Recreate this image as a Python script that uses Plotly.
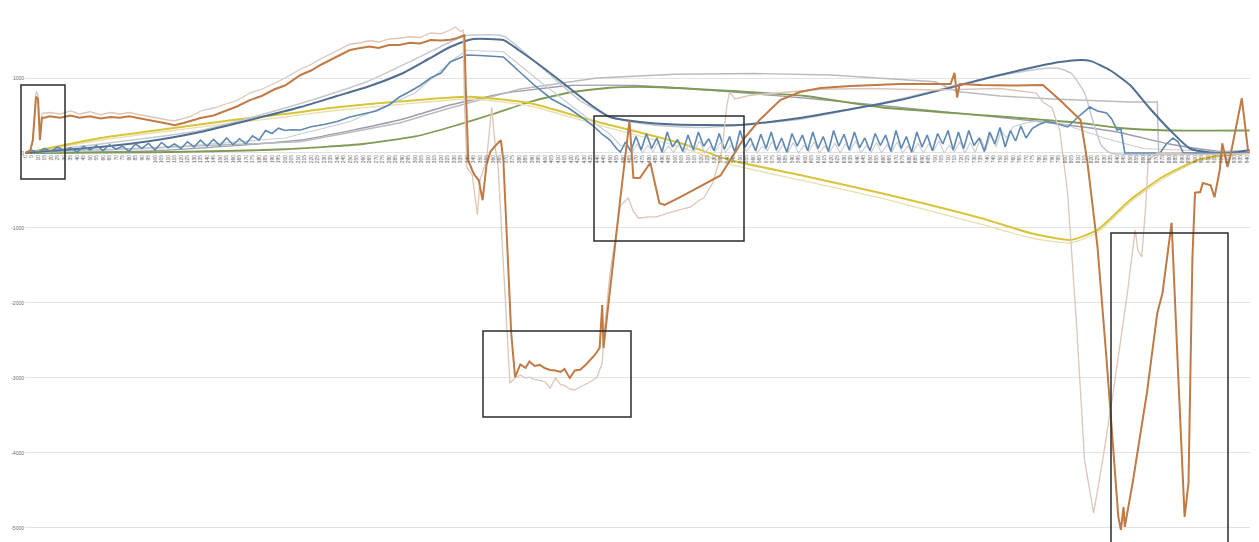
import plotly.graph_objects as go

# sample index (x) and value (y) pairs for each recorded channel
orange_x = [0, 4, 6, 8.5, 10, 11.5, 13, 15, 19, 27, 35, 42, 50, 58, 66, 73, 80, 88, 96, 104, 110, 115, 122, 128, 135, 145, 154, 163, 173, 182, 192, 200, 212, 220, 228, 235, 242, 250, 258, 265, 272, 280, 288, 296, 304, 312, 320, 327, 332, 336, 338, 339, 341, 344, 346, 349, 352, 355, 358, 362, 366, 368, 371, 374, 377, 381, 385, 388, 392, 396, 400, 404, 408, 412, 415, 419, 423, 427, 431, 435, 438, 442, 444, 445, 450, 458, 465, 468, 473, 481, 488, 492, 504, 519, 535, 552, 565, 581, 596, 612, 635, 673, 712, 715, 717, 719, 735, 760, 783, 796, 812, 817, 825, 832, 837, 841, 843, 845, 846, 852, 863, 871, 875, 882, 887, 892, 895, 898, 900, 904, 906, 912, 915, 919, 921, 925, 927, 936, 941]
orange_y = [0, 30, 170, 750, 720, 170, 470, 470, 490, 470, 500, 470, 490, 460, 480, 470, 490, 460, 440, 410, 390, 370, 400, 430, 467, 500, 560, 620, 706, 760, 850, 900, 1040, 1100, 1180, 1240, 1300, 1373, 1400, 1420, 1400, 1440, 1440, 1470, 1460, 1506, 1500, 1510, 1530, 1560, 1570, 900, -100, -230, -300, -360, -630, -160, 20, 100, 170, -100, -1300, -2400, -2990, -2820, -2866, -2780, -2840, -2826, -2870, -2893, -2900, -2920, -2880, -3000, -2900, -2890, -2830, -2760, -2700, -2600, -2026, -2600, -1800, -600, 430, -330, -333, -130, -670, -693, -587, -450, -300, 170, 440, 706, 813, 866, 893, 920, 920, 1070, 740, 920, 906, 900, 906, 706, 440, -93, -1253, -2760, -3866, -4853, -5026, -4720, -4986, -4400, -3200, -2133, -1866, -930, -2930, -4853, -4400, -1400, -530, -520, -400, -430, -590, -230, 130, -187, -53, 730, 0]

pale_x = [0, 4, 6, 8.5, 10, 11.5, 13, 15, 19, 27, 35, 42, 50, 58, 66, 73, 80, 88, 96, 104, 110, 115, 122, 128, 135, 145, 154, 163, 173, 182, 192, 200, 212, 220, 228, 235, 242, 250, 258, 265, 272, 280, 288, 296, 304, 312, 320, 327, 331, 335, 337, 338, 340, 344, 348, 350, 355, 359, 362, 364, 368, 373, 377, 381, 385, 388, 392, 396, 400, 404, 408, 412, 415, 419, 423, 427, 431, 435, 440, 444, 446, 450, 458, 464, 468, 472, 480, 486, 495, 504, 512, 519, 522, 529, 535, 537, 540, 542, 546, 558, 581, 612, 650, 700, 750, 778, 783, 790, 796, 802, 809, 815, 822, 829, 837, 848, 854, 856, 859, 862, 864, 871, 900, 942]
pale_y = [0, 30, 150, 820, 780, 240, 530, 530, 540, 520, 560, 520, 550, 510, 540, 520, 540, 510, 490, 460, 440, 430, 460, 490, 560, 600, 650, 700, 800, 850, 930, 1000, 1120, 1180, 1260, 1320, 1380, 1450, 1470, 1500, 1480, 1520, 1530, 1550, 1540, 1600, 1590, 1640, 1680, 1620, 1640, 700, -200, -290, -827, -360, -100, 610, 40, -187, -1500, -3066, -3000, -2960, -3000, -2990, -3020, -3030, -3050, -3133, -3000, -3090, -3100, -3150, -3160, -3120, -3090, -3050, -2990, -2800, -2300, -1600, -700, -600, -780, -870, -853, -853, -800, -760, -720, -627, -600, -400, -50, 173, 650, 813, 720, 770, 800, 850, 860, 840, 860, 800, 680, 600, 300, -530, -2320, -4093, -4800, -4093, -3200, -1866, -1026, -1293, -1386, -720, -93, 0, -20, -10]

steel_x = [0, 58, 104, 135, 173, 212, 240, 263, 290, 310, 327, 340, 345, 368, 380, 400, 420, 437, 450, 473, 500, 550, 596, 673, 750, 780, 796, 812, 820, 835, 850, 865, 881, 896, 910, 927, 942]
steel_y = [0, 80, 180, 280, 440, 613, 760, 880, 1060, 1250, 1413, 1500, 1520, 1506, 1370, 1120, 850, 620, 480, 413, 380, 373, 467, 706, 1040, 1160, 1213, 1240, 1225, 1100, 906, 600, 300, 60, 10, 0, 40]

silver_x = [0, 135, 212, 263, 300, 327, 338, 345, 368, 400, 427, 450, 480, 520, 596, 673, 740, 780, 795, 805, 815, 822, 828, 835, 942]
silver_y = [0, 300, 660, 950, 1250, 1480, 1560, 1573, 1560, 1100, 700, 480, 380, 340, 450, 720, 1000, 1120, 1130, 1060, 800, 400, 100, 0, 0]

blue_x = [0, 5, 10, 15, 20, 25, 30, 35, 40, 45, 50, 55, 60, 65, 70, 75, 80, 85, 90, 95, 100, 105, 110, 115, 120, 125, 130, 135, 140, 145, 150, 155, 160, 165, 170, 175, 180, 185, 190, 195, 200, 205, 212, 220, 230, 240, 250, 260, 270, 280, 288, 296, 304, 312, 320, 327, 333, 340, 350, 360, 368, 380, 392, 405, 418, 428, 438, 444, 450, 455, 458, 462, 466, 470, 474, 478, 482, 486, 490, 494, 498, 502, 506, 510, 514, 518, 522, 526, 530, 534, 538, 542, 546, 550, 554, 558, 562, 566, 570, 574, 578, 582, 586, 590, 594, 598, 602, 606, 610, 614, 618, 622, 626, 630, 634, 638, 642, 646, 650, 654, 658, 662, 666, 670, 674, 678, 682, 686, 690, 694, 698, 702, 706, 710, 714, 718, 722, 726, 730, 734, 738, 742, 746, 750, 754, 758, 762, 766, 770, 775, 780, 786, 792, 802, 810, 819, 825, 832, 836, 840, 843, 846, 873, 878, 883, 887, 891, 942]
blue_y = [0, 40, 10, 60, 20, 80, 30, 70, 10, 90, 40, 100, 30, 110, 50, 90, 20, 120, 60, 130, 40, 140, 70, 120, 60, 150, 80, 170, 90, 180, 100, 200, 110, 190, 120, 230, 170, 300, 260, 330, 300, 310, 307, 350, 380, 420, 480, 520, 560, 640, 746, 820, 900, 1000, 1066, 1213, 1260, 1306, 1300, 1290, 1280, 1090, 900, 720, 600, 480, 347, 250, 173, 60, 13, 150, 20, 220, 40, 260, 60, 200, 10, 280, 80, 180, 20, 240, 40, 280, 90, 190, 30, 260, 50, 220, 10, 300, 80, 200, 30, 250, 60, 280, 40, 200, 10, 260, 90, 240, 30, 280, 60, 220, 20, 300, 90, 250, 40, 280, 70, 200, 30, 260, 100, 240, 20, 300, 60, 220, 10, 280, 80, 240, 30, 260, 120, 300, 40, 280, 60, 300, 100, 200, 20, 280, 120, 340, 80, 300, 160, 360, 200, 330, 380, 420, 400, 347, 480, 613, 560, 533, 450, 307, 320, 0, 0, 120, 200, 150, 0, 0]

haze_x = [0, 100, 200, 250, 300, 330, 340, 368, 400, 430, 450, 458, 463, 467, 471, 475, 479, 483, 487, 491, 495, 499, 503, 507, 511, 515, 519, 523, 527, 531, 535, 539, 543, 547, 551, 555, 559, 563, 567, 571, 575, 579, 583, 587, 591, 595, 599, 603, 607, 611, 615, 619, 623, 627, 631, 635, 639, 643, 647, 651, 655, 659, 663, 667, 671, 675, 679, 683, 687, 691, 695, 699, 703, 707, 711, 715, 719, 723, 727, 731, 735, 739, 743, 747, 751, 755, 760, 770, 780, 800, 830, 860, 942]
haze_y = [0, 60, 200, 420, 800, 1250, 1370, 1350, 900, 500, 250, 100, 80, 10, 120, 0, 100, 20, 150, 0, 90, 10, 130, 0, 110, 30, 160, 0, 90, 20, 140, 10, 100, 0, 150, 20, 120, 0, 90, 30, 160, 0, 110, 10, 140, 0, 100, 20, 150, 0, 90, 10, 130, 0, 120, 30, 160, 0, 100, 10, 140, 0, 110, 20, 150, 0, 90, 10, 130, 0, 120, 30, 160, 0, 100, 20, 150, 0, 140, 10, 200, 40, 260, 80, 300, 200, 350, 400, 430, 380, 200, 60, 0]

yellow_x = [0, 58, 100, 160, 200, 240, 290, 342, 388, 435, 504, 542, 596, 658, 735, 773, 804, 825, 850, 875, 902, 922, 942]
yellow_y = [0, 200, 300, 440, 520, 610, 690, 750, 666, 440, 133, -93, -293, -533, -867, -1066, -1160, -1026, -627, -320, -93, -27, 0]

cream_x = [0, 58, 100, 160, 200, 240, 290, 342, 388, 435, 504, 542, 596, 658, 735, 773, 804, 825, 850, 875, 902, 922, 942]
cream_y = [0, 170, 270, 400, 480, 570, 650, 720, 630, 400, 80, -150, -360, -600, -950, -1130, -1200, -1060, -660, -350, -110, -40, 0]

green_x = [0, 100, 200, 260, 300, 330, 360, 390, 420, 450, 480, 540, 600, 658, 740, 812, 842, 880, 942]
green_y = [0, 10, 50, 120, 220, 360, 520, 690, 810, 870, 880, 830, 760, 610, 500, 400, 333, 300, 300]

mauve_x = [0, 100, 212, 288, 327, 370, 420, 470, 540, 620, 700, 780, 840, 880, 920, 942]
mauve_y = [0, 30, 173, 440, 640, 800, 900, 900, 820, 700, 560, 420, 280, 120, 20, 30]

ash_x = [0, 212, 288, 327, 380, 440, 500, 560, 620, 700, 717, 750, 790, 850, 871, 872, 942]
ash_y = [0, 150, 400, 600, 850, 1000, 1050, 1060, 1040, 950, 820, 760, 720, 680, 680, 0, 0]

x_tick_values = list(range(0, 941, 5))
y_tick_values = [-5000, -4000, -3000, -2000, -1000, 0, 1000]

series = [
    (mauve_x, mauve_y, "#9c9cae", 1.4, "spline"),
    (ash_x, ash_y, "#b9bcbe", 1.4, "linear"),
    (green_x, green_y, "#7f9a55", 1.8, "spline"),
    (cream_x, cream_y, "#e9dfae", 1.3, "spline"),
    (yellow_x, yellow_y, "#d8c43a", 2.0, "spline"),
    (haze_x, haze_y, "#c8cdd4", 1.1, "linear"),
    (silver_x, silver_y, "#c5c9cf", 1.5, "spline"),
    (steel_x, steel_y, "#4f6e8f", 2.0, "spline"),
    (blue_x, blue_y, "#5e88b0", 1.6, "linear"),
    (pale_x, pale_y, "#dcc6b8", 1.3, "linear"),
    (orange_x, orange_y, "#c07a45", 2.0, "linear"),
]

fig = go.Figure()
for xs, ys, color, width, shape in series:
    line = dict(color=color, width=width, shape=shape)
    if shape == "spline":
        line["smoothing"] = 0.5
    fig.add_trace(go.Scatter(x=xs, y=ys, mode="lines", line=line,
                             showlegend=False, hoverinfo="skip"))

y_lo, y_hi = -5187, 2040
zero_pos = (0 - y_lo) / (y_hi - y_lo)

fig.update_layout(
    width=1259, height=542,
    margin=dict(l=25, r=9, t=0, b=0),
    paper_bgcolor="white", plot_bgcolor="white",
    xaxis=dict(range=[0, 942.3], tickvals=x_tick_values,
               ticktext=[str(v) for v in x_tick_values],
               tickangle=-90, tickfont=dict(size=5, color="#5e5e5e", family="Liberation Sans"),
               showgrid=False, zeroline=False, showline=False,
               anchor="free", position=zero_pos, ticks=""),
    yaxis=dict(range=[y_lo, y_hi], tickvals=y_tick_values,
               ticktext=[str(v) for v in y_tick_values],
               tickfont=dict(size=5, color="#6e6e6e", family="Liberation Sans"),
               showgrid=True, gridcolor="#e2e2e2", gridwidth=1,
               zeroline=False, showline=False, ticks=""),
)

# outlined regions of interest
boxes = [(21, 85, 65, 179), (594, 116, 744, 241), (483, 331, 631, 417), (1111, 233, 1228, 545)]
for x0, y0, x1, y1 in boxes:
    fig.add_shape(type="rect", xref="paper", yref="paper",
                  x0=(x0 - 25) / 1225, x1=(x1 - 25) / 1225,
                  y0=1 - y1 / 542, y1=1 - y0 / 542,
                  line=dict(color="#2b2b2b", width=1.5), fillcolor="rgba(0,0,0,0)")

fig.write_html("out.html")
